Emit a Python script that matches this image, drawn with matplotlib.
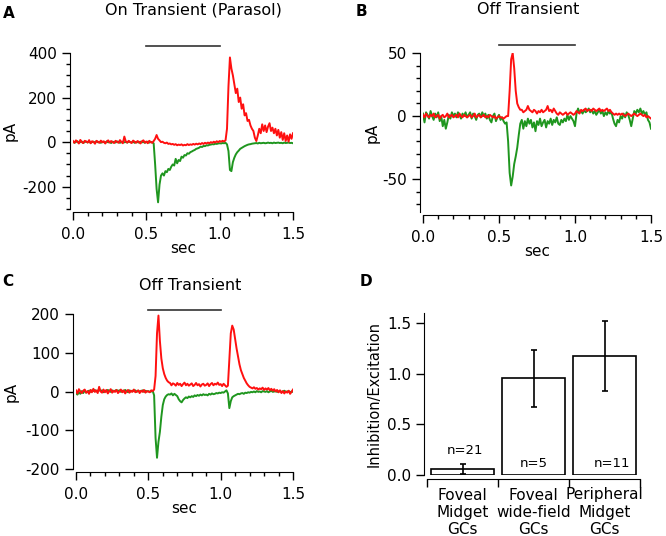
import matplotlib
matplotlib.use("Agg")
import matplotlib.pyplot as plt
import numpy as np

plt.rcParams['font.family'] = ['DejaVu Sans']
plt.rcParams['axes.unicode_minus'] = False

# time base (s), 10 ms steps
t = np.linspace(0, 1.5, 151)
stim = [0.5, 1.0]

# Panel A: On transient (parasol)
exc_a = [2, -3, 1, 4, -2, 0, 3, -4, 1, 2,
         -1, 3, -3, 0, 2, -2, 4, -1, 1, -3,
         2, 0, -2, 3, -1, 1, -4, 2, 0, -2,
         3, 1, -3, 0, 2, -1, 1, -2, 3, 0,
         -1, 2, -3, 1, 0, -2, 2, -1, 1, -3,
         0, 2, -2, 1, -1, -5, -100, -210, -270, -190,
         -150, -140, -150, -130, -135, -120, -125, -110, -100, -105,
         -75, -95, -80, -85, -65, -70, -58, -60, -50, -52,
         -45, -42, -38, -35, -30, -28, -25, -20, -22, -17,
         -18, -14, -15, -12, -11, -9, -10, -7, -8, -6,
         -5, -6, -4, -5, -3, -10, -40, -125, -130, -90,
         -70, -55, -45, -38, -30, -26, -22, -18, -15, -12,
         -10, -9, -7, -6, -5, -4, -6, -3, -5, -4,
         -3, -5, -4, -2, -4, -3, -5, -2, -4, -3,
         -2, -4, -3, -5, -2, -4, -3, -2, -4, -3,
         -5]
inh_a = [5, -3, 8, 2, -6, 10, 0, -4, 6, 3,
         -2, 9, -5, 4, 1, -7, 6, 2, -3, 7,
         -1, 4, -6, 3, 8, -2, 5, 0, -4, 6,
         2, -3, 9, 1, -5, 25, 3, -2, 6, 0,
         -4, 7, 2, -3, 5, 1, -6, 4, 8, -2,
         3, -5, 6, 0, -3, 5, 15, 32, 15, 8,
         0, 2, -3, -5, -2, -8, -6, -10, -8, -12,
         -9, -14, -11, -13, -10, -15, -12, -14, -9, -13,
         -10, -12, -8, -11, -7, -10, -6, -9, -4, -8,
         -3, -6, -2, -5, 0, -3, 2, -2, 4, 0,
         5, 2, 6, 3, 8, 60, 250, 380, 330, 300,
         260, 220, 240, 180, 200, 150, 170, 120, 130, 95,
         100, 75, 60, 50, 20, 5, 30, 60, 40, 80,
         50, 75, 45, 70, 85, 50, 65, 40, 60, 30,
         55, 20, 45, 10, 40, 5, 30, 2, 35, 15,
         40]

# Panel B: Off transient
exc_b = [2, -5, 3, 1, -2, 4, 0, -3, 2, -1,
         3, -4, 0, -8, -3, -10, -5, 1, -2, 3,
         0, 2, -1, 3, 1, -2, 2, 0, 3, -1,
         1, 3, -2, 2, 0, -3, 1, 2, -1, 3,
         0, 2, -2, 1, -3, -5, 0, 2, -4, -1,
         1, -3, -1, -4, -6, -5, -20, -45, -55, -48,
         -38, -32, -25, -15, -6, -3, -10, -4, -8, -2,
         -6, -3, -9, -5, -12, -4, -7, -2, -8, -5,
         -3, -9, -4, -6, -2, -7, -3, -5, -1, -6,
         -7, -3, -5, -2, -4, 1, -3, 0, -2, -4,
         -8, 2, 6, 3, 4, 2, 5, 3, 4, 6,
         3, 5, 2, 4, 1, 3, 5, 2, 4, 0,
         3, 1, 4, 2, 3, -2, -6, -8, -3, -5,
         0, -2, 2, -1, 3, 1, -3, -8, -2, 4,
         2, 5, 3, 6, 2, 4, 1, 3, -3, -5,
         -10]
inh_b = [1, -1, 2, 0, -1, 1, 0, 2, -1, 0,
         1, -2, 0, 1, -1, 0, 2, -1, 0, 1,
         -1, 0, 1, -1, 2, 0, -1, 1, 0, -1,
         0, 1, -1, 0, 2, -1, 0, 1, -1, 0,
         1, -1, 0, -1, 1, 0, -1, 0, -2, -1,
         0, -1, -1, -2, -1, 0, 0, 20, 45, 50,
         38, 20, 10, 7, 5, 5, 3, 4, 5, 8,
         5, 4, 3, 5, 4, 2, 4, 3, 5, 3,
         4, 5, 8, 4, 5, 3, 6, 4, 2, 1,
         3, 2, 1, 2, 3, 1, 2, 3, 2, 1,
         2, 4, 3, 2, 5, 4, 5, 6, 4, 5,
         5, 4, 6, 5, 4, 5, 6, 4, 5, 4,
         5, 6, 4, 5, 3, 2, 1, 2, 1, 2,
         1, 2, 1, 0, 1, 2, 1, 0, 1, 2,
         1, 0, 1, 2, 1, 0, 1, -1, 0, -1,
         -2]

# Panel C: Off transient
exc_c = [-5, -8, -2, -6, 1, -4, 3, -3, 0, 2,
         -1, 3, 1, 4, 0, 2, 5, 1, 3, -2,
         2, 0, 4, 1, -1, 3, 0, 2, 4, 1,
         3, -1, 2, 0, 4, 1, -2, 3, 0, 2,
         1, 3, -1, 2, 0, 1, 3, -1, 2, 0,
         1, -1, 0, 2, -10, -120, -171, -130, -104, -65,
         -35, -20, -13, -9, -7, -8, -5, -10, -6, -9,
         -12, -20, -25, -28, -22, -18, -15, -17, -13, -15,
         -12, -14, -10, -12, -9, -11, -8, -10, -7, -9,
         -8, -10, -6, -8, -5, -7, -6, -4, -5, -3,
         -4, -2, -3, 0, 3, -5, -43, -25, -15, -12,
         -10, -8, -6, -7, -5, -4, -6, -3, -4, -2,
         -3, -1, -2, 0, -2, 1, -1, 0, -2, 1,
         0, -1, 1, -2, 0, 2, -1, 0, 1, -1,
         0, 1, -1, 0, 2, -1, 0, 1, -2, 0,
         -1]
inh_c = [3, -5, 6, 0, -4, 2, 5, -3, 1, -6,
         4, -2, 7, -1, 3, -4, 12, 0, -3, 5,
         -2, 4, -5, 1, 6, -3, 2, -1, 4, -4,
         0, 5, -2, 3, -5, 1, 4, -3, 2, -1,
         5, -2, 0, 3, -4, 2, -1, 4, -3, 1,
         0, -2, 3, 1, 5, 40, 150, 196, 130, 85,
         60, 45, 35, 28, 24, 22, 16, 21, 19, 15,
         22, 17, 20, 14, 19, 23, 16, 20, 15, 18,
         21, 14, 17, 22, 16, 19, 13, 18, 20, 15,
         17, 21, 14, 19, 22, 16, 20, 18, 23, 17,
         19, 14, 20, 16, 12, 15, 80, 150, 170, 160,
         135, 111, 90, 70, 55, 45, 35, 28, 21, 16,
         12, 10, 8, 11, 7, 9, 5, 8, 6, 10,
         4, 8, 5, 9, 3, 7, 2, 6, 0, 4,
         -2, 3, -4, 1, -5, 0, -3, 2, -6, -1,
         5]

# Panel D: inhibition/excitation ratio
cell_types = ['Foveal\nMidget\nGCs', 'Foveal\nwide-field\nGCs', 'Peripheral\nMidget\nGCs']
ratio = [0.063, 0.955, 1.175]
ratio_err = [0.05, 0.28, 0.35]
n_cells = ['n=21', 'n=5', 'n=11']

RED = '#ff1010'
GREEN = '#1f961f'
FS = 11

fig = plt.figure(figsize=(6.66, 5.36), dpi=100)
W, H = 666.0, 536.0


def make_ax(left, top, right, bottom):
    return fig.add_axes([left / W, 1 - bottom / H, (right - left) / W, (bottom - top) / H])


def style(ax, off_x=2, off_y=2):
    ax.spines['top'].set_visible(False)
    ax.spines['right'].set_visible(False)
    ax.spines['left'].set_position(('outward', off_y))
    ax.spines['bottom'].set_position(('outward', off_x))
    ax.tick_params(which='major', length=6, width=1, labelsize=FS)
    ax.tick_params(which='minor', length=3, width=1)
    ax.tick_params(axis='y', pad=3.5)
    ax.tick_params(axis='x', pad=5)
    ax.patch.set_alpha(0)


def trace_panel(ax, exc, inh, ylim, major, minor, bar_y, ylab_x):
    ax.plot(t, exc, color=GREEN, lw=1.4)
    ax.plot(t, inh, color=RED, lw=1.4)
    ax.plot(stim, [bar_y, bar_y], color='#333333', lw=1.2, clip_on=False)
    ax.set_xlim(0, 1.5)
    ax.set_ylim(*ylim)
    ax.set_xticks([0, 0.5, 1.0, 1.5])
    ax.set_xticklabels(['0.0', '0.5', '1.0', '1.5'])
    ax.set_xticks(np.arange(0, 1.51, 0.1), minor=True)
    ax.set_yticks(major)
    if minor is not None:
        ax.set_yticks(minor, minor=True)
    ax.set_xlabel('sec', fontsize=FS, labelpad=-1)
    ax.set_ylabel('pA', fontsize=FS)
    ax.yaxis.set_label_coords(ylab_x, 0.5)
    style(ax)


axA = make_ax(73, 53, 293, 209)
trace_panel(axA, exc_a, inh_a, (-300, 400), [-200, 0, 200, 400],
            np.arange(-300, 401, 50), 432, -0.25)

axB = make_ax(423, 53, 651, 212)
trace_panel(axB, exc_b, inh_b, (-76, 50), [-50, 0, 50],
            np.arange(-70, 51, 10), 56, -0.19)

axC = make_ax(76, 314, 293, 469)
trace_panel(axC, exc_c, inh_c, (-200, 200), [-200, -100, 0, 100, 200],
            None, 210, -0.265)

# Panel D
axD = make_ax(427, 313, 640, 475)
x = np.arange(len(ratio))
axD.bar(x, ratio, width=0.9, color='white', edgecolor='black', lw=1.2)
axD.errorbar(x, ratio, yerr=ratio_err, fmt='none', ecolor='black',
             elinewidth=1.2, capsize=2.5, capthick=1.2)
n_y = [0.24, 0.11, 0.11]
n_x = [0.03, 0.0, 0.1]
for i in range(len(ratio)):
    axD.text(x[i] + n_x[i], n_y[i], n_cells[i], ha='center', va='center', fontsize=9.5)
axD.set_xlim(-0.5, 2.5)
axD.set_ylim(0, 1.6)
axD.set_yticks([0, 0.5, 1.0, 1.5])
axD.set_yticklabels(['0.0', '0.5', '1.0', '1.5'])
axD.set_xticks(x)
axD.set_xticklabels(cell_types, fontsize=9.8, linespacing=0.88)
axD.set_xticks([-0.5, 0.5, 1.5, 2.5], minor=True)
axD.set_ylabel('Inhibition/Excitation', fontsize=10.5, labelpad=4)
style(axD, off_x=3, off_y=2)
axD.tick_params(axis='x', which='major', length=0, pad=6)
axD.tick_params(axis='x', which='minor', length=6)

# titles and panel letters
fig.text(193 / W, 1 - 10 / H, 'On Transient (Parasol)', ha='center', va='center', fontsize=11.5)
fig.text(528 / W, 1 - 10 / H, 'Off Transient', ha='center', va='center', fontsize=11.5)
fig.text(190 / W, 1 - 286 / H, 'Off Transient', ha='center', va='center', fontsize=11.5)
for lab, px, py in [('A', 9, 14), ('B', 361, 12), ('C', 8, 281), ('D', 366, 282)]:
    fig.text(px / W, 1 - py / H, lab, ha='center', va='center', fontsize=11, fontweight='bold')

fig.savefig('out.png', dpi=100)
